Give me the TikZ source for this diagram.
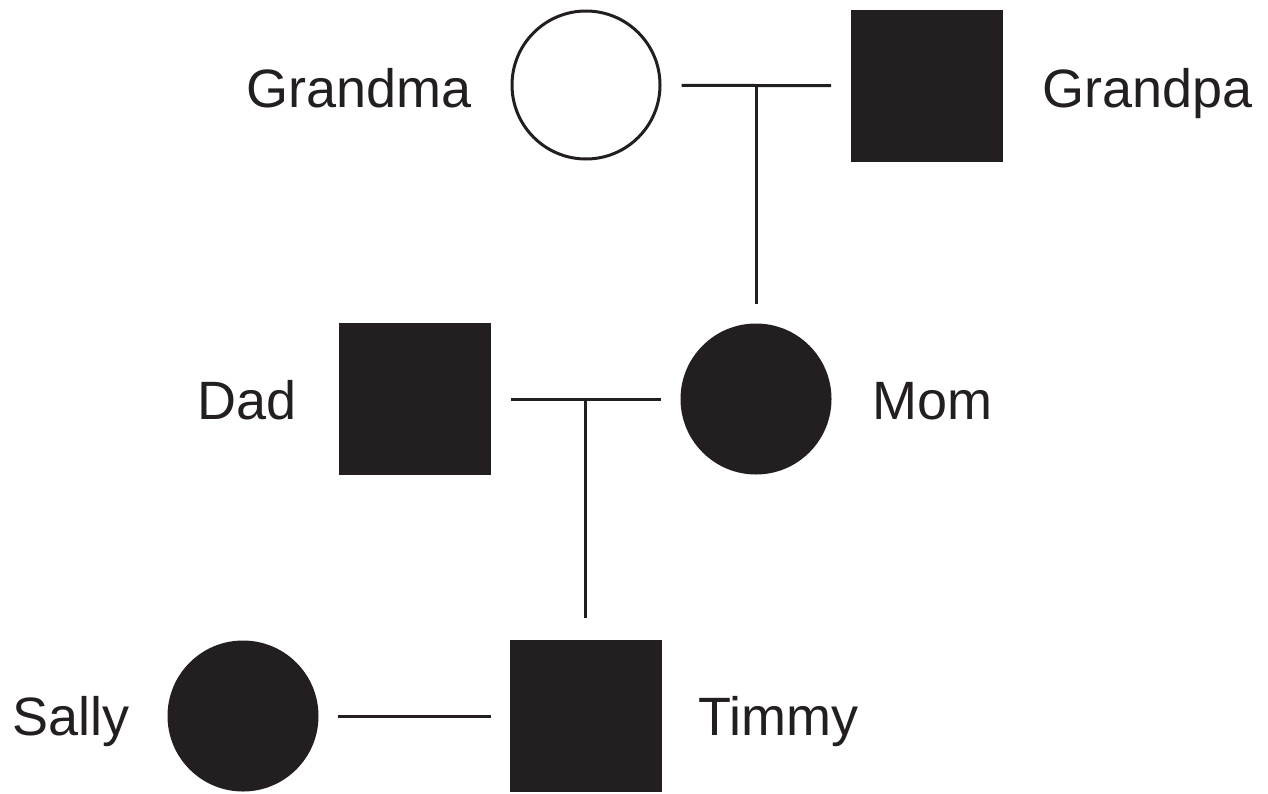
\documentclass[tikz,border=0pt]{standalone}
\usepackage{fontspec}
\setmainfont{Liberation Sans}
\definecolor{ink}{RGB}{35,31,32}
\begin{document}
\begin{tikzpicture}[x=1pt,y=-1pt,
  female/.style={circle,draw=ink,line width=3pt,minimum size=148pt,inner sep=0pt},
  affected/.style={fill=ink},
  male/.style={rectangle,draw=ink,fill=ink,line width=1pt,minimum size=151pt,inner sep=0pt},
  lbl/.style={inner sep=0pt,font=\fontsize{54}{60}\selectfont,text=ink},
  link/.style={draw=ink,line width=3pt,shorten <=20pt,shorten >=20pt}]
\useasboundingbox (0,0) rectangle (1268,793);
\node[female] (grandma) at (586,85) {};
\node[male] (grandpa) at (927,86) {};
\node[male] (dad) at (415,399) {};
\node[female,affected] (mom) at (756,399) {};
\node[female,affected] (sally) at (243,716) {};
\node[male] (timmy) at (585.5,716) {};
\node[lbl,anchor=base east] (lgrandma) at (472,107) {Grandma};
\node[lbl,anchor=base west] (lgrandpa) at (1042,107) {Grandpa};
\node[lbl,anchor=base east] (ldad) at (297,419) {Dad};
\node[lbl,anchor=base west] (lmom) at (872,419) {Mom};
\node[lbl,anchor=base west] (lsally) at (12,735) {Sally};
\node[lbl,anchor=base west] (ltimmy) at (698,735) {Timmy};
\draw[link] (grandma) -- (grandpa);
\coordinate (gp) at (756,86);
\draw[link,shorten <=0pt] (gp) -- (gp |- mom.north);
\draw[link] (dad) -- (mom);
\coordinate (pm) at (585.5,399);
\draw[link,shorten <=0pt,shorten >=22pt] (pm) -- (pm |- timmy.north);
\draw[link,shorten <=19pt,shorten >=19pt] (sally) -- (timmy);
\end{tikzpicture}
\end{document}
